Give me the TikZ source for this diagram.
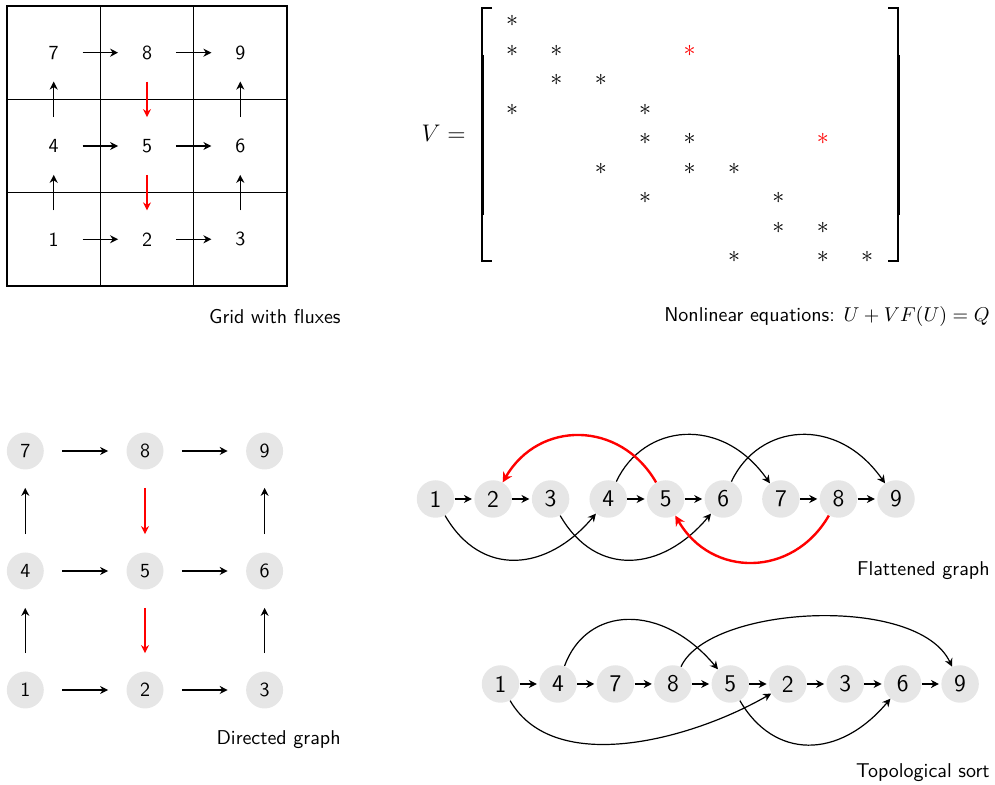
\documentclass[tikz,border=0pt]{standalone}
\usetikzlibrary{arrows.meta, positioning}
\definecolor{nodegray}{RGB}{230,230,230}
\definecolor{fluxred}{RGB}{255,0,0}

\begin{document}
\begin{tikzpicture}[x=0.5pt, y=0.5pt, font=\sffamily,
    >={Stealth[length=4pt, width=4pt, inset=1.3pt]},
    cell/.style={circle, minimum size=28.5pt, inner sep=0pt},
    vertex/.style={circle, fill=nodegray, minimum size=18.5pt, inner sep=0pt},
    bigvertex/.style={circle, fill=nodegray, minimum size=18.75pt, inner sep=0pt, font=\sffamily\large},
    star/.style={inner sep=0pt, font=\large},
    caption/.style={anchor=east, inner sep=0pt},
    gridline/.style={line width=0.7pt},
    flux/.style={line width=0.7pt, ->},
    redflux/.style={flux, color=fluxred},
    edge/.style={semithick, ->, shorten <=9pt, shorten >=9pt},
    rededge/.style={edge, color=fluxred},
    chain/.style={semithick, ->, shorten >=1pt},
    arc/.style={semithick, ->},
    redarc/.style={line width=1.2pt, -{Stealth[length=5pt, width=5pt, inset=1.6pt]}, color=fluxred, distance=36pt}
]
\useasboundingbox (0,0) rectangle (995,785);

% grid with fluxes
\draw[gridline] (7,499) rectangle (287,779);
\draw[gridline] (100.3,499) -- (100.3,779);
\draw[gridline] (193.7,499) -- (193.7,779);
\draw[gridline] (7,592.3) -- (287,592.3);
\draw[gridline] (7,685.7) -- (287,685.7);
\node[cell] (g7) at (53.7,732.3) {7};
\node[cell] (g8) at (147,732.3) {8};
\node[cell] (g9) at (240.3,732.3) {9};
\node[cell] (g4) at (53.7,639) {4};
\node[cell] (g5) at (147,639) {5};
\node[cell] (g6) at (240.3,639) {6};
\node[cell] (g1) at (53.7,545.7) {1};
\node[cell] (g2) at (147,545.7) {2};
\node[cell] (g3) at (240.3,545.7) {3};
\draw[flux] (g1) -- (g2);
\draw[flux] (g2) -- (g3);
\draw[flux] (g4) -- (g5);
\draw[flux] (g5) -- (g6);
\draw[flux] (g7) -- (g8);
\draw[flux] (g8) -- (g9);
\draw[flux] (g1) -- (g4);
\draw[flux] (g4) -- (g7);
\draw[flux] (g3) -- (g6);
\draw[flux] (g6) -- (g9);
\draw[redflux] (g8) -- (g5);
\draw[redflux] (g5) -- (g2);
\node[caption] (gridcap) at (341,468) {Grid with fluxes};

% sparsity pattern
\node[anchor=east, inner sep=0pt, font=\large] (veq) at (466,652) {$V=$};
\draw[semithick] (492,777) -- (482,777) -- (482,524) -- (492,524);
\draw[line width=1.5pt] (482,730) -- (482,570);
\draw[semithick] (888,777) -- (898,777) -- (898,524) -- (888,524);
\draw[line width=1.5pt] (898,730) -- (898,570);
\foreach \r/\c in {1/1, 2/1, 2/2, 3/2, 3/3, 4/1, 4/4, 5/4, 5/5,
                   6/3, 6/5, 6/6, 7/4, 7/7, 8/7, 8/8, 9/6, 9/8, 9/9}
    \node[star] (m-\r-\c) at ({512+44.4*(\c-1)}, {764-29.5*(\r-1)}) {$\ast$};
\node[star, text=fluxred] (m-2-5) at ({512+44.4*4}, {764-29.5}) {$\ast$};
\node[star, text=fluxred] (m-5-8) at ({512+44.4*7}, {764-29.5*4}) {$\ast$};
\node[caption] (matcap) at (990,468) {Nonlinear equations: $U+VF(U)=Q$};

% directed graph
\node[vertex] (d7) at (25.3,334) {7};
\node[vertex] (d8) at (145,334) {8};
\node[vertex] (d9) at (264.6,334) {9};
\node[vertex] (d4) at (25.3,214) {4};
\node[vertex] (d5) at (145,214) {5};
\node[vertex] (d6) at (264.6,214) {6};
\node[vertex] (d1) at (25.3,95) {1};
\node[vertex] (d2) at (145,95) {2};
\node[vertex] (d3) at (264.6,95) {3};
\draw[edge] (d1) -- (d2);
\draw[edge] (d2) -- (d3);
\draw[edge] (d4) -- (d5);
\draw[edge] (d5) -- (d6);
\draw[edge] (d7) -- (d8);
\draw[edge] (d8) -- (d9);
\draw[edge] (d1) -- (d4);
\draw[edge] (d4) -- (d7);
\draw[edge] (d3) -- (d6);
\draw[edge] (d6) -- (d9);
\draw[rededge] (d8) -- (d5);
\draw[rededge] (d5) -- (d2);
\node[caption] (dircap) at (341,45) {Directed graph};

% flattened graph
\node[bigvertex] (f1) at (435.5,286) {1};
\node[bigvertex] (f2) at (493.1,286) {2};
\node[bigvertex] (f3) at (550.6,286) {3};
\node[bigvertex] (f4) at (608.2,286) {4};
\node[bigvertex] (f5) at (665.7,286) {5};
\node[bigvertex] (f6) at (723.3,286) {6};
\node[bigvertex] (f7) at (780.9,286) {7};
\node[bigvertex] (f8) at (838.4,286) {8};
\node[bigvertex] (f9) at (896.0,286) {9};
\draw[chain] (f1) -- (f2);
\draw[chain] (f2) -- (f3);
\draw[chain] (f4) -- (f5);
\draw[chain] (f5) -- (f6);
\draw[chain] (f7) -- (f8);
\draw[chain] (f8) -- (f9);
\draw[arc] (f1) to[out=-60, in=-130, out distance=36pt, in distance=38pt] (f4);
\draw[arc] (f3) to[out=-60, in=-130, out distance=36pt, in distance=38pt] (f6);
\draw[arc] (f4) to[out=65, in=125, out distance=32pt, in distance=42pt] (f7);
\draw[arc] (f6) to[out=65, in=125, out distance=32pt, in distance=42pt] (f9);
\draw[redarc] (f5) to[out=120, in=60] (f2);
\draw[redarc] (f8) to[out=-120, in=-60] (f5);
\node[caption] (flatcap) at (990,214) {Flattened graph};

% topological sort
\node[bigvertex] (t1) at (500.5,101) {1};
\node[bigvertex] (t4) at (558.0,101) {4};
\node[bigvertex] (t7) at (615.4,101) {7};
\node[bigvertex] (t8) at (672.9,101) {8};
\node[bigvertex] (t5) at (730.3,101) {5};
\node[bigvertex] (t2) at (787.8,101) {2};
\node[bigvertex] (t3) at (845.2,101) {3};
\node[bigvertex] (t6) at (902.7,101) {6};
\node[bigvertex] (t9) at (960.1,101) {9};
\draw[chain] (t1) -- (t4);
\draw[chain] (t4) -- (t7);
\draw[chain] (t7) -- (t8);
\draw[chain] (t8) -- (t5);
\draw[chain] (t5) -- (t2);
\draw[chain] (t2) -- (t3);
\draw[chain] (t3) -- (t6);
\draw[chain] (t6) -- (t9);
\draw[arc] (t4) to[out=70, in=130, out distance=32pt, in distance=44pt] (t5);
\draw[arc] (t8) to[out=65, in=115, out distance=34pt, in distance=40pt] (t9);
\draw[arc] (t1) to[out=-60, in=-150, out distance=44pt, in distance=46pt] (t2);
\draw[arc] (t5) to[out=-60, in=-130, out distance=34pt, in distance=40pt] (t6);
\node[caption] (topocap) at (990,12) {Topological sort};
\end{tikzpicture}
\end{document}
